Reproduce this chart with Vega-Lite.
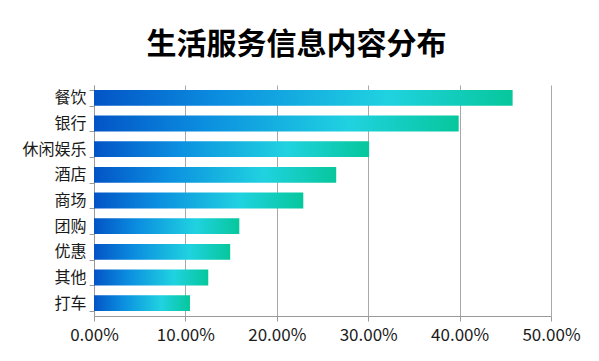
{
  "$schema": "https://vega.github.io/schema/vega-lite/v6.json",
  "width": 457,
  "height": 231,
  "autosize": {"type": "none"},
  "padding": {"left": 94, "top": 85, "right": 48, "bottom": 45},
  "background": "white",
  "title": {
    "text": "生活服务信息内容分布",
    "font": "Noto Sans CJK SC",
    "fontSize": 30,
    "fontWeight": "bold",
    "color": "#000000",
    "anchor": "middle",
    "dx": -26,
    "offset": 17
  },
  "data": {
    "values": [
      {"category": "餐饮", "share": 0.458},
      {"category": "银行", "share": 0.399},
      {"category": "休闲娱乐", "share": 0.301},
      {"category": "酒店", "share": 0.265},
      {"category": "商场", "share": 0.229},
      {"category": "团购", "share": 0.159},
      {"category": "优惠", "share": 0.149},
      {"category": "其他", "share": 0.125},
      {"category": "打车", "share": 0.105}
    ]
  },
  "mark": {
    "type": "bar",
    "cornerRadius": 0,
    "fill": {
      "gradient": "linear",
      "x1": 0, "y1": 0, "x2": 1, "y2": 0,
      "stops": [
        {"offset": 0, "color": "#0354c6"},
        {"offset": 0.3, "color": "#0b8ee0"},
        {"offset": 0.7, "color": "#20d2e0"},
        {"offset": 1, "color": "#06c79c"}
      ]
    }
  },
  "encoding": {
    "y": {
      "field": "category",
      "type": "nominal",
      "sort": null,
      "title": null,
      "scale": {"paddingInner": 0.38, "paddingOuter": 0.19},
      "axis": {
        "tickBand": "extent",
        "domainColor": "#9a9a9a",
        "tickColor": "#9a9a9a",
        "tickSize": 5,
        "labelFont": "Noto Sans CJK SC",
        "labelFontSize": 16,
        "labelColor": "#1a1a1a",
        "labelPadding": 3
      }
    },
    "x": {
      "field": "share",
      "type": "quantitative",
      "title": null,
      "scale": {"domain": [0, 0.5], "nice": false},
      "axis": {
        "values": [0, 0.1, 0.2, 0.3, 0.4, 0.5],
        "format": ".2%",
        "labelFlush": false,
        "grid": true,
        "gridColor": "#a8a8a8",
        "domainColor": "#9a9a9a",
        "tickColor": "#9a9a9a",
        "tickSize": 5,
        "labelFont": "Noto Sans CJK SC",
        "labelFontSize": 17,
        "labelColor": "#1a1a1a",
        "labelPadding": 6
      }
    }
  },
  "config": {"view": {"stroke": null}}
}
